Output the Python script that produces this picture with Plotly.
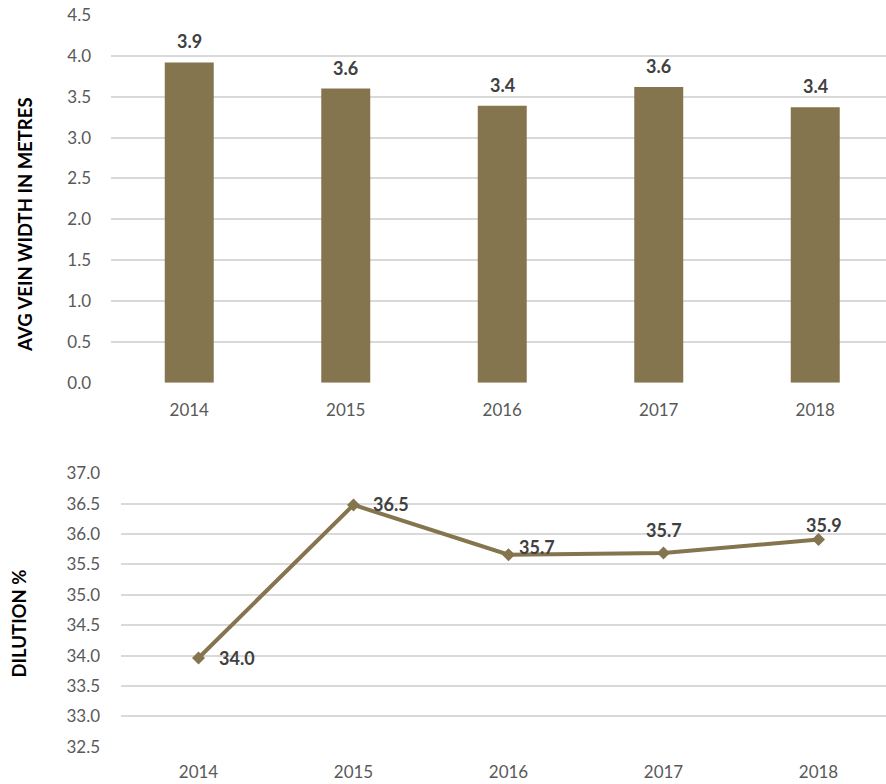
import plotly.graph_objects as go

# Yearly mining statistics
years = ["2014", "2015", "2016", "2017", "2018"]
vein_width_m = [3.92, 3.60, 3.39, 3.62, 3.37]
dilution_pct = [33.96, 36.48, 35.66, 35.69, 35.91]

width_ticks = [0.0, 0.5, 1.0, 1.5, 2.0, 2.5, 3.0, 3.5, 4.0, 4.5]
dilution_ticks = [32.5, 33.0, 33.5, 34.0, 34.5, 35.0, 35.5, 36.0, 36.5, 37.0]

W, H = 886, 784
BROWN = "#85754E"
GRID = "#D9D9D9"
TICK_GRAY = "#595959"
LABEL_GRAY = "#404040"
FONT = "Lato, 'Open Sans', sans-serif"

fig = go.Figure()

fig.add_trace(go.Bar(
    x=years, y=vein_width_m, marker=dict(color=BROWN, line=dict(width=0)),
    xaxis="x", yaxis="y", showlegend=False, hoverinfo="x+y",
))

fig.add_trace(go.Scatter(
    x=years, y=dilution_pct, mode="lines+markers",
    line=dict(color=BROWN, width=4),
    marker=dict(symbol="diamond", size=10, color=BROWN),
    xaxis="x2", yaxis="y2", showlegend=False, hoverinfo="x+y",
))

annotations = []
# value labels above the bars
for i, v in enumerate(vein_width_m):
    annotations.append(dict(
        x=i, y=v, xref="x", yref="y", text=f"<b>{v:.1f}</b>", showarrow=False,
        xanchor="center", yanchor="middle", yshift=21,
        font=dict(family=FONT, size=18, color=LABEL_GRAY),
    ))

# value labels on the dilution line (per-point placement)
line_label_style = [
    dict(xanchor="left", xshift=18, yshift=0),
    dict(xanchor="left", xshift=17, yshift=1),
    dict(xanchor="left", xshift=8, yshift=8),
    dict(xanchor="center", xshift=0, yshift=23),
    dict(xanchor="center", xshift=5, yshift=15),
]
for i, (v, st) in enumerate(zip(dilution_pct, line_label_style)):
    annotations.append(dict(
        x=i, y=v, xref="x2", yref="y2", text=f"<b>{v:.1f}</b>", showarrow=False,
        yanchor="middle", **st,
        font=dict(family=FONT, size=18, color=LABEL_GRAY),
    ))

# axis titles
annotations.append(dict(
    x=25 / W, y=1 - 225 / H, xref="paper", yref="paper",
    text="<b>AVG VEIN WIDTH IN METRES</b>", textangle=-90, showarrow=False,
    xanchor="center", yanchor="middle",
    font=dict(family=FONT, size=18.5, color="#000000"),
))
annotations.append(dict(
    x=18.5 / W, y=1 - 624 / H, xref="paper", yref="paper",
    text="<b>DILUTION %</b>", textangle=-90, showarrow=False,
    xanchor="center", yanchor="middle",
    font=dict(family=FONT, size=18.5, color="#000000"),
))

tick_font = dict(family=FONT, size=17, color=TICK_GRAY)

fig.update_layout(
    width=W, height=H,
    margin=dict(l=0, r=0, t=0, b=0, autoexpand=False),
    paper_bgcolor="white", plot_bgcolor="white",
    bargap=0.687,
    annotations=annotations,
    xaxis=dict(
        domain=[111 / W, 1.0], anchor="y", type="category",
        range=[-0.5, -0.5 + (W - 111) / 156.5], automargin=False,
        showgrid=False, showline=False, zeroline=False, ticks="",
        tickfont=tick_font, ticklabelstandoff=15,
    ),
    yaxis=dict(
        domain=[1 - 382.7 / H, 1 - 15 / H], anchor="x",
        range=[0, 4.5], tickvals=width_ticks, automargin=False,
        ticktext=[f"{t:.1f}" for t in width_ticks],
        showgrid=True, gridcolor=GRID, gridwidth=1.5,
        zeroline=False, showline=False, ticks="",
        tickfont=tick_font, ticklabelstandoff=19,
    ),
    xaxis2=dict(
        domain=[121 / W, 1.0], anchor="y2", type="category",
        range=[-0.5, -0.5 + (W - 121) / 155.0], automargin=False,
        showgrid=False, showline=False, zeroline=False, ticks="",
        tickfont=tick_font, ticklabelstandoff=13,
    ),
    yaxis2=dict(
        domain=[1 - 746.7 / H, 1 - 473.3 / H], anchor="x2",
        range=[32.5, 37.0], tickvals=dilution_ticks, automargin=False,
        ticktext=[f"{t:.1f}" for t in dilution_ticks],
        showgrid=True, gridcolor=GRID, gridwidth=1.5,
        zeroline=False, showline=False, ticks="",
        tickfont=tick_font, ticklabelstandoff=20,
    ),
)

fig.write_html("out.html")
